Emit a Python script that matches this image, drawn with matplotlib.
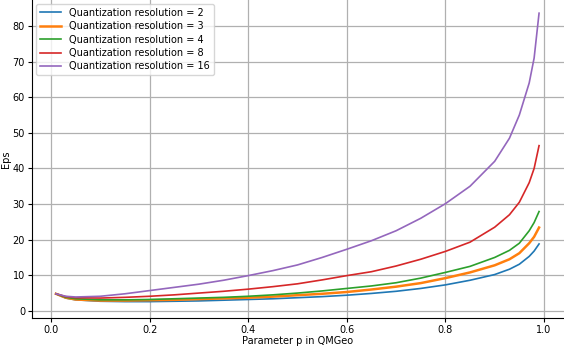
import matplotlib
matplotlib.use("Agg")
import matplotlib.pyplot as plt

# Valores
p = [0.01, 0.03, 0.05, 0.1, 0.15, 0.2, 0.25, 0.3, 0.35, 0.4, 0.45, 0.5, 0.55,
     0.6, 0.65, 0.7, 0.75, 0.8, 0.85, 0.9, 0.93, 0.95, 0.97, 0.98, 0.99]

eps_2 = [4.8, 3.6, 3.1, 2.7, 2.6, 2.6, 2.7, 2.8, 3.0, 3.2, 3.4, 3.7, 4.0,
         4.4, 4.9, 5.5, 6.3, 7.3, 8.6, 10.2, 11.7, 13.1, 15.3, 16.8, 18.8]
eps_3 = [4.8, 3.7, 3.2, 2.9, 2.9, 3.0, 3.1, 3.3, 3.5, 3.7, 4.0, 4.4, 4.8,
         5.3, 6.0, 6.8, 7.8, 9.2, 10.8, 12.8, 14.5, 16.2, 19.0, 20.8, 23.4]
eps_4 = [4.8, 3.8, 3.4, 3.1, 3.1, 3.2, 3.4, 3.6, 3.8, 4.1, 4.5, 5.0, 5.6,
         6.3, 7.0, 7.9, 9.2, 10.8, 12.5, 15.0, 17.0, 19.0, 22.5, 24.8, 27.9]
eps_8 = [4.8, 4.0, 3.7, 3.6, 3.8, 4.1, 4.5, 5.0, 5.5, 6.1, 6.8, 7.6, 8.7,
         9.9, 11.0, 12.6, 14.5, 16.7, 19.3, 23.5, 27.0, 30.5, 36.0, 40.0, 46.4]
eps_16 = [4.8, 4.1, 3.9, 4.1, 4.8, 5.7, 6.6, 7.5, 8.6, 9.9, 11.3, 12.9, 15.0,
          17.3, 19.7, 22.5, 26.0, 30.1, 35.0, 42.0, 48.5, 55.0, 64.0, 71.0, 83.6]

resolutions = [2, 3, 4, 8, 16]
series = [eps_2, eps_3, eps_4, eps_8, eps_16]
colors = ["#1f77b4", "#ff7f0e", "#2ca02c", "#d62728", "#9467bd"]
widths = [1.2, 1.8, 1.2, 1.2, 1.2]

fig = plt.figure(figsize=(5.64, 3.46), dpi=100)
ax = fig.add_axes([32 / 564, 28 / 346, 532 / 564, 318 / 346])

for r, y, c, w in zip(resolutions, series, colors, widths):
    ax.plot(p, y, color=c, linewidth=w, label="Quantization resolution = %d" % r)

ax.set_xlim(-0.0385, 1.0406)
ax.set_ylim(-2.0, 87.3)
ax.set_xticks([0.0, 0.2, 0.4, 0.6, 0.8, 1.0])
ax.set_yticks(range(0, 90, 10))
ax.tick_params(labelsize=7, length=3, pad=2)
ax.grid(True, color="#b0b0b0", linewidth=0.9)
ax.spines["top"].set_visible(False)
ax.spines["right"].set_visible(False)

ax.set_xlabel("Parameter p in QMGeo", fontsize=7, labelpad=1)
ax.set_ylabel("Eps", fontsize=7, labelpad=1)

ax.legend(loc="upper left", fontsize=7, handlelength=2.2, borderaxespad=0.4,
          labelspacing=0.35, framealpha=0.8)

fig.savefig("out.png", dpi=100)
